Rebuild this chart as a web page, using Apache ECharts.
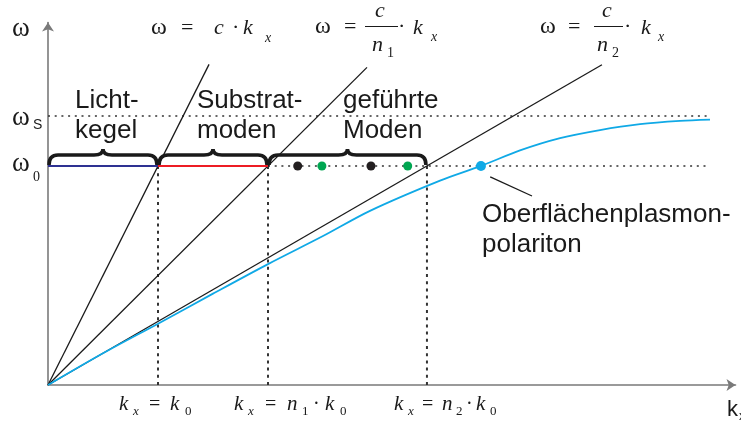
<!DOCTYPE html>
<html><head><meta charset="utf-8">
<script src="https://cdn.jsdelivr.net/npm/echarts@6/dist/echarts.min.js"></script>
<style>html,body{margin:0;padding:0;background:#fff}#c{width:741px;height:424px}</style>
</head><body><div id="c"></div>
<script>
// ---- data (k in units of k0, omega in units of omega0) ----
const kMarks = [1, 2, 3.445];            // k0, n1*k0, n2*k0
const omega0 = 1;
const omegaS = 1.228;
const lightLine = [[0, 0], [1.464, 1.464]];      // w = c*kx
const substrateLine = [[0, 0], [2.9, 1.45]];     // w = c/n1*kx
const guidedLine = [[0, 0], [5.036, 1.462]];     // w = c/n2*kx
const sppK = [0, 0.5, 1, 1.5, 2, 2.5, 2.927, 3.564, 3.936, 4.291, 4.655, 5.018, 5.382, 5.745, 6.018];
const sppW = [0, 0.145, 0.280, 0.417, 0.552, 0.680, 0.795, 0.933, 1.0, 1.071, 1.127, 1.164, 1.191, 1.206, 1.212];
const blackModesK = [2.27, 2.936];
const greenModesK = [2.49, 3.27];
const sppDotK = [3.936];
const dottedEndK = 6.018;
const pointer = [[4.02, 0.95], [4.4, 0.863]];
const braceRanges = [[0, 1], [1, 2], [2, 3.445]];

const chart = echarts.init(document.getElementById('c'), null, {renderer: 'canvas'});
const axisCommon = {
  type: 'value', splitLine: {show: false}, axisTick: {show: false}, axisLabel: {show: false},
  axisLine: {show: true, symbol: ['none', 'arrow'], symbolSize: [9, 9], lineStyle: {color: '#7a7a7a', width: 1.6}}
};
const lineS = (data, color, width, type) => ({
  type: 'line', data, showSymbol: false, symbol: 'none', animation: false, silent: true,
  lineStyle: {color, width, type: type || 'solid'}, z: 3
});
const dotLine = [2, 4.7];
const sppData = sppK.map((k, i) => [k, sppW[i]]);

const series = [
  lineS([[0, omegaS], [dottedEndK, omegaS]], '#333', 1.6, dotLine),
  lineS([[kMarks[1], omega0], [dottedEndK, omega0]], '#333', 1.6, dotLine),
  ...kMarks.map(k => lineS([[k, 0], [k, omega0]], '#333', 2, [3, 4.2])),
  lineS(lightLine, '#1a1a1a', 1.3),
  lineS(substrateLine, '#1a1a1a', 1.3),
  lineS(guidedLine, '#1a1a1a', 1.3),
  Object.assign(lineS(sppData, '#10a9e6', 1.8), {smooth: 0.3, z: 4}),
  lineS([[0, omega0], [kMarks[0], omega0]], '#2e3192', 2),
  lineS([[kMarks[0], omega0], [kMarks[1], omega0]], '#ed1c24', 2),
  lineS(pointer, '#1a1a1a', 1.3),
  {type: 'scatter', data: blackModesK.map(k => [k, omega0]), symbolSize: 9, itemStyle: {color: '#231f20', opacity: 1}, animation: false, z: 6},
  {type: 'scatter', data: greenModesK.map(k => [k, omega0]), symbolSize: 9, itemStyle: {color: '#00a651', opacity: 1}, animation: false, z: 6},
  {type: 'scatter', data: sppDotK.map(k => [k, omega0]), symbolSize: 10, itemStyle: {color: '#10a9e6', opacity: 1}, animation: false, z: 6},
  {type: 'custom', coordinateSystem: 'cartesian2d', data: braceRanges, animation: false, z: 7,
   encode: {x: [0, 1]},
   renderItem: (params, api) => {
     const a = api.coord([api.value(0), omega0]);
     const b = api.coord([api.value(1), omega0]);
     const x0 = a[0] + 1, x1 = b[0] - 1, y = a[1] - 1;
     const m = (x0 + x1) / 2, top = y - 10, r = 9;
     const d = `M${x0} ${y} Q${x0} ${top} ${x0 + r} ${top} L${m - r} ${top} Q${m} ${top} ${m} ${top - 6} Q${m} ${top} ${m + r} ${top} L${x1 - r} ${top} Q${x1} ${top} ${x1} ${y}`;
     return {type: 'path', shape: {pathData: d}, style: {fill: 'none', stroke: '#1a1a1a', lineWidth: 3.6}};
   }}
];

// text helpers: x = left edge, b = baseline
const SERIF = '"Liberation Serif","Times New Roman",serif';
const SANS = '"Liberation Sans",Arial,sans-serif';
function T(x, b, text, fs, fam, style) {
  return {type: 'text', x: x, y: b - 0.34 * fs, z: 100, silent: true,
    style: {text: text, font: (style || 'normal') + ' ' + fs + 'px ' + fam, fill: '#1a1a1a', align: 'left', verticalAlign: 'middle'}};
}
function BAR(x0, x1, y) {
  return {type: 'line', z: 100, silent: true, shape: {x1: x0, y1: y, x2: x1, y2: y}, style: {stroke: '#1a1a1a', lineWidth: 1}};
}
const graphics = [
  // axis labels
  T(12, 38, 'ω', 27, SERIF),
  T(12, 127, 'ω', 27, SERIF), T(33, 130, 'S', 14, SANS),
  T(12, 173, 'ω', 27, SERIF), T(33, 182, '0', 14, SERIF),
  T(727, 417, 'k', 22, SANS), T(739, 421, 'x', 13, SANS),
  // formula 1
  T(151, 36, 'ω', 24, SERIF), T(181, 36, '=', 22, SERIF), T(214, 36, 'c', 22, SERIF, 'italic'),
  T(232, 36, '·', 22, SERIF), T(243, 36, 'k', 22, SERIF, 'italic'), T(265, 43, 'x', 14, SERIF, 'italic'),
  // formula 2
  T(315, 35, 'ω', 24, SERIF), T(344, 35, '=', 22, SERIF),
  T(375, 19, 'c', 22, SERIF, 'italic'), BAR(365, 398, 26.5), T(372, 53, 'n', 22, SERIF, 'italic'), T(387, 58, '1', 14, SERIF),
  T(398, 35, '·', 22, SERIF), T(413, 36, 'k', 22, SERIF, 'italic'), T(431, 42, 'x', 14, SERIF, 'italic'),
  // formula 3
  T(540, 35, 'ω', 24, SERIF), T(568, 35, '=', 22, SERIF),
  T(602, 19, 'c', 22, SERIF, 'italic'), BAR(594, 623, 26.5), T(597, 53, 'n', 22, SERIF, 'italic'), T(612, 58, '2', 14, SERIF),
  T(624, 35, '·', 22, SERIF), T(641, 36, 'k', 22, SERIF, 'italic'), T(658, 42, 'x', 14, SERIF, 'italic'),
  // region labels
  T(75, 110, 'Licht-', 26, SANS), T(75, 140, 'kegel', 26, SANS),
  T(197, 110, 'Substrat-', 26, SANS), T(197, 140, 'moden', 26, SANS),
  T(343, 110, 'geführte', 26, SANS), T(343, 140, 'Moden', 26, SANS),
  T(482, 224, 'Oberflächenplasmon-', 26, SANS), T(482, 254, 'polariton', 26, SANS),
  // x labels
  T(119, 412, 'k', 21, SERIF, 'italic'), T(133, 415.5, 'x', 13, SERIF, 'italic'), T(149, 412, '=', 20, SERIF),
  T(170, 412, 'k', 21, SERIF, 'italic'), T(185, 415.5, '0', 13, SERIF),
  T(234, 412, 'k', 21, SERIF, 'italic'), T(248, 415.5, 'x', 13, SERIF, 'italic'), T(265, 412, '=', 20, SERIF),
  T(287, 412, 'n', 21, SERIF, 'italic'), T(302, 415.5, '1', 13, SERIF), T(313, 412, '·', 20, SERIF),
  T(325, 412, 'k', 21, SERIF, 'italic'), T(340, 415.5, '0', 13, SERIF),
  T(394, 412, 'k', 21, SERIF, 'italic'), T(408, 415.5, 'x', 13, SERIF, 'italic'), T(422, 412, '=', 20, SERIF),
  T(442, 412, 'n', 21, SERIF, 'italic'), T(456, 415.5, '2', 13, SERIF), T(466, 412, '·', 20, SERIF),
  T(476, 412, 'k', 21, SERIF, 'italic'), T(490, 415.5, '0', 13, SERIF)
];

chart.setOption({
  animation: false,
  backgroundColor: '#fff',
  grid: {left: 48, right: 5.5, top: 22.5, bottom: 39, containLabel: false},
  xAxis: Object.assign({min: 0, max: 6.25}, axisCommon),
  yAxis: Object.assign({min: 0, max: 1.655}, axisCommon),
  series: series,
  graphic: graphics
});
</script></body></html>
